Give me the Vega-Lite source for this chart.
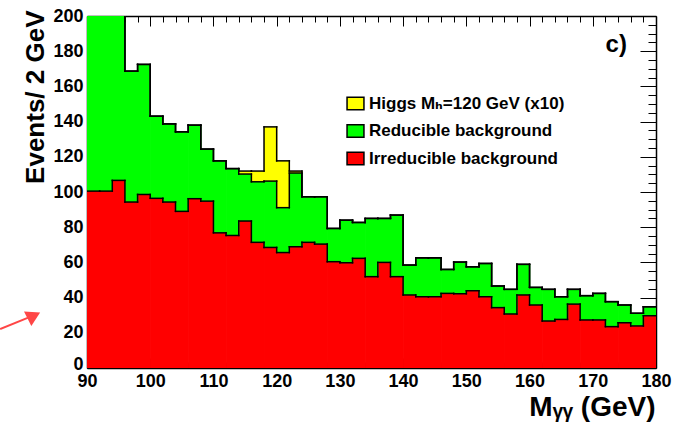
{
  "$schema": "https://vega.github.io/schema/vega-lite/v6.json",
  "width": 569,
  "height": 352,
  "autosize": {"type": "none"},
  "padding": {"left": 87, "top": 16, "right": 21, "bottom": 56},
  "background": "white",
  "config": {
    "view": {"stroke": null},
    "axis": {
      "labelFont": "Liberation Sans",
      "labelFontWeight": "bold",
      "labelFontSize": 18,
      "labelColor": "black",
      "titleFont": "Liberation Sans, DejaVu Sans",
      "titleFontWeight": "bold",
      "titleColor": "black",
      "tickColor": "black",
      "tickWidth": 1,
      "domainColor": "black",
      "domainWidth": 1.5,
      "grid": false,
      "zindex": 1,
      "labelOverlap": false,
      "labelFlush": false,
      "labelBound": false
    },
    "legend": {"symbolStrokeColor": "black", "symbolStrokeWidth": 1.5}
  },
  "data": {
    "values": [
      {"lo": 90, "hi": 92, "irr": 100.5, "bkg": 215, "tot": 215},
      {"lo": 92, "hi": 94, "irr": 100.5, "bkg": 215, "tot": 215},
      {"lo": 94, "hi": 96, "irr": 106.6, "bkg": 215, "tot": 215},
      {"lo": 96, "hi": 98, "irr": 94.3, "bkg": 168.7, "tot": 168.7},
      {"lo": 98, "hi": 100, "irr": 98.6, "bkg": 172.5, "tot": 172.5},
      {"lo": 100, "hi": 102, "irr": 96.4, "bkg": 143.1, "tot": 143.1},
      {"lo": 102, "hi": 104, "irr": 94.3, "bkg": 138.7, "tot": 138.7},
      {"lo": 104, "hi": 106, "irr": 89.0, "bkg": 134.2, "tot": 134.2},
      {"lo": 106, "hi": 108, "irr": 96.2, "bkg": 138.0, "tot": 138.0},
      {"lo": 108, "hi": 110, "irr": 94.8, "bkg": 124.4, "tot": 124.4},
      {"lo": 110, "hi": 112, "irr": 76.8, "bkg": 117.7, "tot": 117.7},
      {"lo": 112, "hi": 114, "irr": 75.3, "bkg": 113.3, "tot": 113.3},
      {"lo": 114, "hi": 116, "irr": 83.5, "bkg": 110.2, "tot": 111.9},
      {"lo": 116, "hi": 118, "irr": 71.4, "bkg": 105.8, "tot": 111.9},
      {"lo": 118, "hi": 120, "irr": 68.5, "bkg": 106.2, "tot": 137.0},
      {"lo": 120, "hi": 122, "irr": 65.6, "bkg": 91.1, "tot": 117.7},
      {"lo": 122, "hi": 124, "irr": 68.9, "bkg": 110.8, "tot": 111.9},
      {"lo": 124, "hi": 126, "irr": 71.4, "bkg": 97.3, "tot": 97.3},
      {"lo": 126, "hi": 128, "irr": 70.4, "bkg": 97.3, "tot": 97.3},
      {"lo": 128, "hi": 130, "irr": 60.4, "bkg": 79.3, "tot": 79.3},
      {"lo": 130, "hi": 132, "irr": 59.8, "bkg": 84.0, "tot": 84.0},
      {"lo": 132, "hi": 134, "irr": 62.3, "bkg": 82.7, "tot": 82.7},
      {"lo": 134, "hi": 136, "irr": 51.9, "bkg": 85.0, "tot": 85.0},
      {"lo": 136, "hi": 138, "irr": 60.0, "bkg": 85.0, "tot": 85.0},
      {"lo": 138, "hi": 140, "irr": 51.9, "bkg": 86.9, "tot": 86.9},
      {"lo": 140, "hi": 142, "irr": 41.5, "bkg": 58.5, "tot": 58.5},
      {"lo": 142, "hi": 144, "irr": 40.5, "bkg": 62.6, "tot": 62.6},
      {"lo": 144, "hi": 146, "irr": 40.5, "bkg": 62.6, "tot": 62.6},
      {"lo": 146, "hi": 148, "irr": 42.4, "bkg": 56.0, "tot": 56.0},
      {"lo": 148, "hi": 150, "irr": 42.2, "bkg": 60.2, "tot": 60.2},
      {"lo": 150, "hi": 152, "irr": 43.9, "bkg": 57.5, "tot": 57.5},
      {"lo": 152, "hi": 154, "irr": 40.5, "bkg": 59.4, "tot": 59.4},
      {"lo": 154, "hi": 156, "irr": 34.3, "bkg": 46.6, "tot": 46.6},
      {"lo": 156, "hi": 158, "irr": 30.7, "bkg": 44.7, "tot": 44.7},
      {"lo": 158, "hi": 160, "irr": 41.5, "bkg": 58.9, "tot": 58.9},
      {"lo": 160, "hi": 162, "irr": 35.8, "bkg": 45.8, "tot": 45.8},
      {"lo": 162, "hi": 164, "irr": 26.7, "bkg": 44.7, "tot": 44.7},
      {"lo": 164, "hi": 166, "irr": 27.6, "bkg": 40.5, "tot": 40.5},
      {"lo": 166, "hi": 168, "irr": 36.3, "bkg": 44.7, "tot": 44.7},
      {"lo": 168, "hi": 170, "irr": 27.3, "bkg": 41.1, "tot": 41.1},
      {"lo": 170, "hi": 172, "irr": 27.3, "bkg": 42.4, "tot": 42.4},
      {"lo": 172, "hi": 174, "irr": 23.5, "bkg": 37.7, "tot": 37.7},
      {"lo": 174, "hi": 176, "irr": 25.7, "bkg": 35.8, "tot": 35.8},
      {"lo": 176, "hi": 178, "irr": 23.9, "bkg": 31.1, "tot": 31.1},
      {"lo": 178, "hi": 180, "irr": 29.7, "bkg": 34.8, "tot": 34.8}
    ]
  },
  "layer": [
    {
      "mark": {"type": "rect", "clip": true, "opacity": 1, "x2Offset": 0.7},
      "encoding": {
        "x": {"field": "lo", "type": "quantitative", "scale": {"domain": [90, 180], "nice": false, "zero": false},
          "axis": {
            "orient": "bottom",
            "values": [90,92,94,96,98,100,102,104,106,108,110,112,114,116,118,120,122,124,126,128,130,132,134,136,138,140,142,144,146,148,150,152,154,156,158,160,162,164,166,168,170,172,174,176,178,180],
            "labelExpr": "datum.value % 10 === 0 ? datum.label : ''",
            "tickSize": {"condition": {"test": "datum.value % 10 === 0", "value": -10}, "value": -6},
            "labelPadding": 14,
            "title": "Mᵧᵧ (GeV)",
            "titleFontSize": 28,
            "titleAlign": "right",
            "titleAnchor": "end",
            "titleBaseline": "alphabetic",
            "titleX": 568,
            "titleY": 47
          }},
        "x2": {"field": "hi"},
        "y": {"field": "irr", "type": "quantitative", "scale": {"domain": [0, 200], "nice": false, "zero": false},
          "axis": {
            "orient": "left",
            "values": [0,5,10,15,20,25,30,35,40,45,50,55,60,65,70,75,80,85,90,95,100,105,110,115,120,125,130,135,140,145,150,155,160,165,170,175,180,185,190,195,200],
            "labelExpr": "datum.value % 20 === 0 ? datum.label : ''",
            "labelOffset": {"condition": {"test": "datum.value === 0", "value": -4}, "value": 0},
            "tickSize": {"condition": {"test": "datum.value % 20 === 0", "value": -16}, "value": -8},
            "labelPadding": 20,
            "title": "Events/ 2 GeV",
            "titleFontSize": 26,
            "titleAngle": 270,
            "titleAlign": "right",
            "titleAnchor": "end",
            "titleBaseline": "alphabetic",
            "titleX": -44,
            "titleY": -6
          }},
        "y2": {"datum": 0},
        "color": {
          "datum": "Irreducible background",
          "type": "nominal",
          "scale": {"domain": ["Higgs Mₕ=120 GeV (x10)", "Reducible background", "Irreducible background"], "range": ["#ffff00", "#00ff00", "#ff0000"]},
          "legend": {
            "orient": "none",
            "legendX": 260,
            "legendY": 79,
            "title": null,
            "padding": 0,
            "symbolType": "M-1.3,-0.95H1.3V0.95H-1.3Z",
            "symbolSize": 169,
            "symbolOpacity": 1,
            "symbolStrokeColor": "black",
            "symbolStrokeWidth": 1.5,
            "labelFont": "Liberation Sans, DejaVu Sans",
            "labelFontWeight": "bold",
            "labelFontSize": 17,
            "labelColor": "black",
            "labelOffset": 5,
            "labelLimit": 400,
            "rowPadding": 8.5,
            "encode": {"symbols": {"update": {"stroke": {"value": "black"}, "strokeWidth": {"value": 1.5}, "opacity": {"value": 1}}}}
          }
        }
      }
    },
    {
      "mark": {"type": "rect", "clip": true, "opacity": 1, "x2Offset": 0.7},
      "encoding": {
        "x": {"field": "lo", "type": "quantitative", "scale": {"domain": [90, 180], "nice": false, "zero": false},
          "axis": {
            "orient": "top",
            "values": [90,92,94,96,98,100,102,104,106,108,110,112,114,116,118,120,122,124,126,128,130,132,134,136,138,140,142,144,146,148,150,152,154,156,158,160,162,164,166,168,170,172,174,176,178,180],
            "labels": false,
            "tickSize": {"condition": {"test": "datum.value % 10 === 0", "value": -10}, "value": -6},
            "title": null
          }},
        "x2": {"field": "hi"},
        "y": {"field": "bkg", "type": "quantitative", "scale": {"domain": [0, 200], "nice": false, "zero": false},
          "axis": {
            "orient": "right",
            "values": [0,5,10,15,20,25,30,35,40,45,50,55,60,65,70,75,80,85,90,95,100,105,110,115,120,125,130,135,140,145,150,155,160,165,170,175,180,185,190,195,200],
            "labels": false,
            "tickSize": {"condition": {"test": "datum.value % 20 === 0", "value": -16}, "value": -8},
            "title": null
          }},
        "y2": {"field": "irr"},
        "color": {"datum": "Reducible background", "type": "nominal"}
      }
    },
    {
      "transform": [{"filter": "datum.tot > datum.bkg"}],
      "mark": {"type": "rect", "clip": true, "opacity": 1, "x2Offset": 0.7},
      "encoding": {
        "x": {"field": "lo", "type": "quantitative", "scale": {"domain": [90, 180], "nice": false, "zero": false}, "axis": null},
        "x2": {"field": "hi"},
        "y": {"field": "tot", "type": "quantitative", "scale": {"domain": [0, 200], "nice": false, "zero": false}, "axis": null},
        "y2": {"field": "bkg"},
        "color": {"datum": "Higgs Mₕ=120 GeV (x10)", "type": "nominal"}
      }
    },
    {
      "transform": [{"fold": ["irr", "bkg", "tot"], "as": ["series", "top"]}],
      "mark": {"type": "rule", "clip": true, "color": "black", "strokeWidth": 1.5, "strokeCap": "square"},
      "encoding": {
        "x": {"field": "lo", "type": "quantitative", "scale": {"domain": [90, 180], "nice": false, "zero": false}, "axis": null},
        "x2": {"field": "hi"},
        "y": {"field": "top", "type": "quantitative", "scale": {"domain": [0, 200], "nice": false, "zero": false}, "axis": null}
      }
    },
    {
      "transform": [
        {"fold": ["irr", "bkg", "tot"], "as": ["series", "top"]},
        {"window": [{"op": "lead", "field": "top", "as": "next"}], "groupby": ["series"], "sort": [{"field": "lo", "order": "ascending"}]},
        {"filter": "datum.next != null"}
      ],
      "mark": {"type": "rule", "clip": true, "color": "black", "strokeWidth": 1.5, "strokeCap": "square"},
      "encoding": {
        "x": {"field": "hi", "type": "quantitative", "scale": {"domain": [90, 180], "nice": false, "zero": false}, "axis": null},
        "y": {"field": "top", "type": "quantitative", "scale": {"domain": [0, 200], "nice": false, "zero": false}, "axis": null},
        "y2": {"field": "next"}
      }
    },
    {
      "data": {"values": [{}]},
      "mark": {"type": "text", "text": "c)", "font": "Liberation Sans", "fontWeight": "bold", "fontSize": 24, "align": "right", "baseline": "alphabetic", "color": "black"},
      "encoding": {
        "x": {"datum": 175.4, "type": "quantitative", "scale": {"domain": [90, 180], "nice": false, "zero": false}, "axis": null},
        "y": {"datum": 179.4, "type": "quantitative", "scale": {"domain": [0, 200], "nice": false, "zero": false}, "axis": null}
      }
    },
    {
      "data": {"values": [{}]},
      "mark": {"type": "rule", "clip": false, "color": "#ff4646", "strokeWidth": 2},
      "encoding": {
        "x": {"datum": 76.26, "type": "quantitative", "scale": {"domain": [90, 180], "nice": false, "zero": false}, "axis": null},
        "x2": {"datum": 80.9},
        "y": {"datum": 22.1, "type": "quantitative", "scale": {"domain": [0, 200], "nice": false, "zero": false}, "axis": null},
        "y2": {"datum": 28.9}
      }
    },
    {
      "data": {"values": [{}]},
      "mark": {"type": "point", "clip": false, "shape": "triangle-up", "filled": true, "color": "#ff4646", "opacity": 1, "size": 260, "angle": 63},
      "encoding": {
        "x": {"datum": 81.6, "type": "quantitative", "scale": {"domain": [90, 180], "nice": false, "zero": false}, "axis": null},
        "y": {"datum": 29.8, "type": "quantitative", "scale": {"domain": [0, 200], "nice": false, "zero": false}, "axis": null}
      }
    }
  ],
  "resolve": {"axis": {"x": "independent", "y": "independent"}}
}
